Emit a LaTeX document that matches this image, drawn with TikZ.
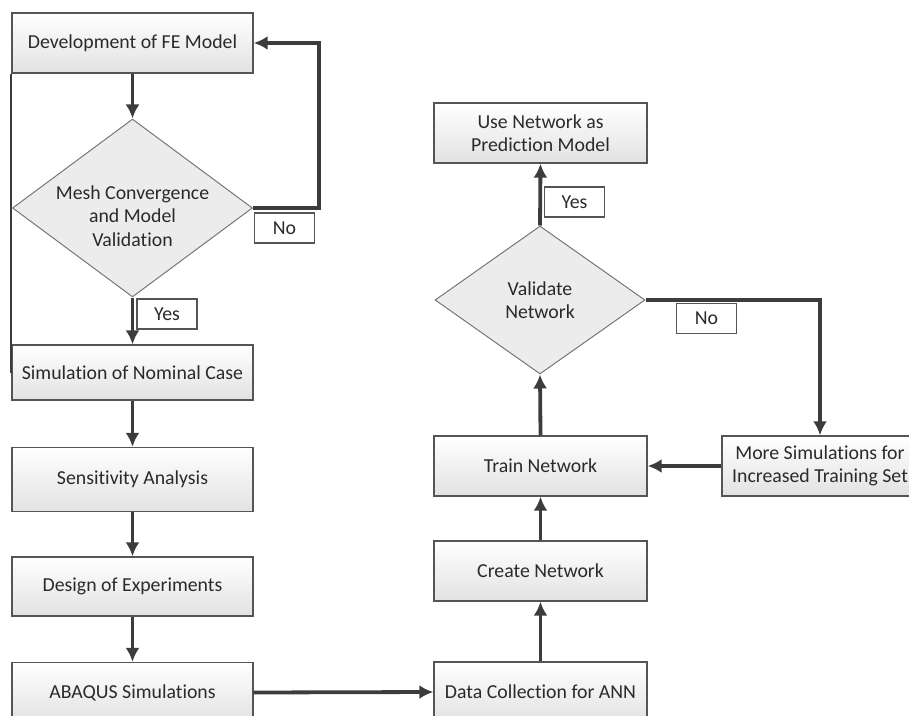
\documentclass[tikz,border=0pt]{standalone}
\usepackage{fontspec}
\setmainfont{Carlito}[Ligatures=NoCommon]
\usepackage{xcolor}
\definecolor{ddark}{HTML}{3C3C3C}
\definecolor{bborder}{HTML}{555555}
\definecolor{lgray}{HTML}{E2E2E2}
\definecolor{dgray}{HTML}{ECECEC}
\definecolor{ttext}{HTML}{2A2A2A}
\usepackage{tikz}
\usetikzlibrary{shapes.geometric}
\usetikzlibrary{arrows.meta}

\begin{document}
\begin{tikzpicture}[x=.5pt,y=-.5pt,
  every node/.style={font=\fontsize{9.9}{11.7}\selectfont,text=ttext,align=center,inner sep=0pt},
  box/.style={draw=bborder,line width=.7pt,top color=white,bottom color=lgray,minimum width=120.5pt,minimum height=30pt},
  nbox/.style={box,minimum width=106.5pt},
  decision/.style={diamond,draw=bborder!80,line width=.5pt,fill=dgray},
  tag/.style={draw=bborder,line width=.7pt,fill=white,minimum width=30pt,minimum height=15pt},
  flow/.style={ddark,line width=1.9pt,-{Latex[length=7pt,width=7pt]}}]
\useasboundingbox (0,0) rectangle (909,716);
\clip (0,0) rectangle (909,716);
% left column
\node[box] (dev) at (132.5,43) {Development of FE Model};
\node[decision,minimum width=120pt,minimum height=89pt,
  label={[yshift=-4pt]center:Mesh Convergence\\and Model\\Validation}] (mesh) at (132.5,208) {};
\node[box,minimum height=27.5pt] (sim) at (132.5,372.5) {Simulation of Nominal Case};
\node[box,minimum height=32pt] (sens) at (132.5,479.5) {Sensitivity Analysis};
\node[box,minimum height=29.5pt] (doe) at (132.5,586.5) {Design of Experiments};
\node[box] (abq) at (132.5,692.5) {ABAQUS Simulations};
% right column
\node[nbox] (use) at (540.5,133) {Use Network as\\Prediction Model};
\node[decision,minimum width=105pt,minimum height=74pt] (val) at (540,300) {Validate\\Network};
\node[nbox] (train) at (540.5,466) {Train Network};
\node[nbox] (create) at (540.5,571) {Create Network};
\node[nbox] (data) at (540.5,692) {Data Collection for ANN};
\node[box,minimum width=98pt] (more) at (820,466) {More Simulations for\\Increased Training Set};
% yes / no tags
\node[tag] (yesa) at (167,314) {Yes};
\node[tag] (noa) at (284.5,228) {No};
\node[tag] (yesb) at (574.5,202) {Yes};
\node[tag] (nob) at (706.5,318.5) {No};
% connectors
\draw[ddark,line width=1pt] (dev.south west) -- (sim.west);
\draw[flow] (dev) -- (mesh);
\draw[flow] (mesh) -- (sim);
\draw[flow] (mesh.east) -- ++(66,0) |- (dev.east);
\draw[flow] (sim) -- (sens);
\draw[flow] (sens) -- (doe);
\draw[flow] (doe) -- (abq);
\draw[flow] (abq.east) -- (data.west);
\draw[flow] (data) -- (create);
\draw[flow] (create) -- (train);
\draw[flow] (train.north) -- (val.south);
\draw[flow] (val.north) -- (use.south);
\draw[flow] (val.east) -| (more.north);
\draw[flow] (more.west) -- (train.east);
\end{tikzpicture}
\end{document}
